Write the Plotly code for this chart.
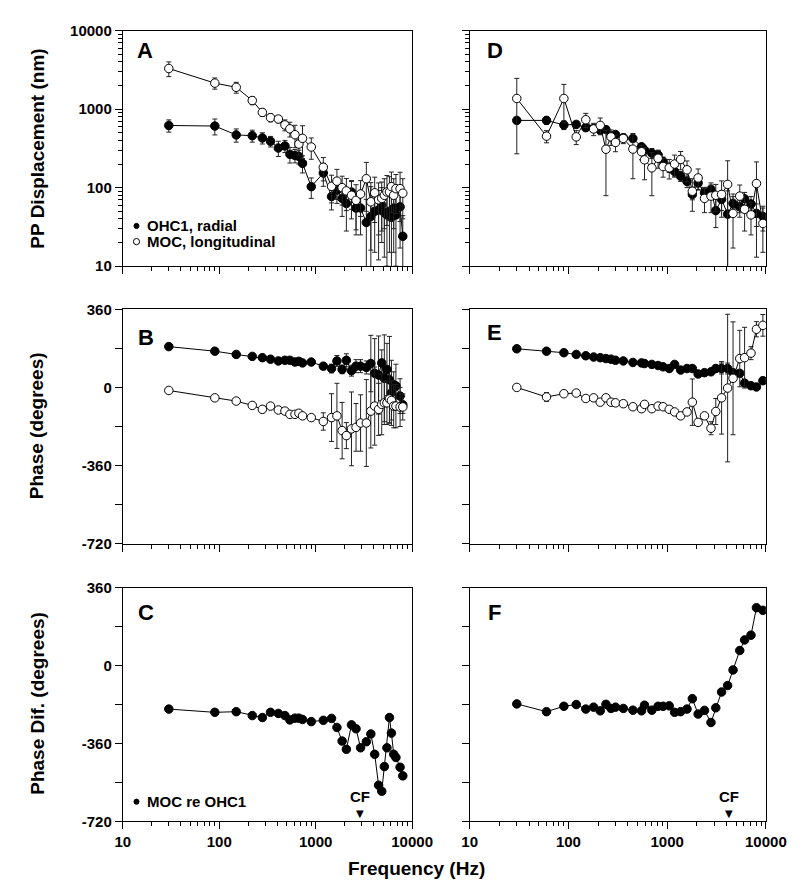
import numpy as np
import plotly.graph_objects as go

W, H = 802, 886

# ---------------- data ----------------
freq_left = [30, 90, 150, 220, 280, 340, 410, 480, 540, 610, 670, 730, 900, 1200, 1460, 1660,
             1880, 2080, 2350, 2620, 2920, 3350, 3730, 4090, 4490, 4840, 5150, 5480, 5820, 6100,
             6440, 6790, 7500, 8000]
freq_right = [30, 60, 90, 120, 150, 180, 210, 240, 270, 300, 360, 450, 550, 590, 700, 810, 910,
              1050, 1190, 1370, 1590, 1800, 2060, 2390, 2780, 3110, 3560, 4100, 4650, 5440, 6090,
              7070, 8030, 9330]

# Panel A: PP displacement (nm)
a_ohc1 = [620, 610, 470, 460, 430, 390, 320, 340, 266, 257, 250, 204, 103, 154, 77, 93, 73, 63, 88,
          55, 55, 36, 43, 50, 52, 60, 48, 45, 50, 42, 55, 45, 57, 24]
a_ohc1_err = [110, 140, 90, 80, 70, 60, 70, 60, 60, 50, 50, 50, 30, 50, 25, 30, 30, 35, 35, 30, 30,
              35, 60, 35, 40, 40, 35, 35, 35, 35, 40, 35, 40, 20]
a_moc = [3300, 2150, 1900, 1290, 910, 780, 750, 630, 562, 473, 360, 425, 330, 182, 104, 121, 100,
         91, 80, 69, 83, 130, 66, 86, 70, 73, 80, 88, 88, 103, 80, 97, 97, 85]
a_moc_err = [700, 350, 300, 150, 100, 90, 80, 100, 120, 150, 100, 190, 100, 60, 40, 50, 40, 40, 40,
             40, 40, 80, 50, 50, 45, 45, 50, 55, 50, 55, 50, 50, 60, 45]

# Panel B: phase (degrees)
b_ohc1 = [188, 167, 152, 143, 137, 130, 122, 125, 125, 117, 120, 113, 117, 98, 87, 122, 83, 125, 77,
          98, 98, 92, 110, 65, 57, 113, 42, 83, 35, -25, 12, 7, -40, -80]
b_ohc1_err = [6, 6, 6, 6, 6, 6, 6, 6, 6, 6, 6, 6, 8, 15, 20, 25, 20, 30, 25, 30, 30, 30, 130, 160,
              180, 60, 200, 120, 200, 150, 60, 100, 80, 40]
b_moc = [-14, -48, -63, -83, -101, -86, -104, -109, -124, -124, -119, -131, -139, -157, -139, -131,
         -199, -222, -191, -184, -164, -164, -109, -86, -101, -78, -71, -71, -53, -60, -86, -86, -90,
         -90]
b_moc_err = [6, 6, 6, 6, 6, 6, 6, 6, 6, 6, 6, 6, 8, 40, 110, 150, 130, 60, 170, 110, 130, 200, 170,
             180, 120, 140, 100, 100, 110, 90, 100, 100, 90, 60]

# Panel C: phase difference (degrees)
c_diff = [-201, -216, -213, -231, -240, -216, -221, -231, -251, -243, -243, -249, -259, -253, -244,
          -286, -349, -387, -274, -292, -380, -352, -316, -410, -553, -581, -467, -380, -240, -312,
          -410, -425, -470, -510]

# Panel D: PP displacement (nm)
d_ohc1 = [720, 720, 630, 640, 582, 566, 540, 550, 456, 476, 434, 424, 332, 300, 275, 261, 215, 181,
          161, 140, 120, 82, 115, 86, 95, 51, 71, 46, 63, 57, 72, 62, 47, 43]
d_ohc1_err = [60, 80, 80, 60, 50, 40, 50, 40, 50, 40, 40, 40, 30, 40, 40, 40, 30, 25, 25, 20, 20,
              12, 20, 15, 20, 20, 20, 45, 20, 15, 15, 15, 15, 15]
d_moc = [1370, 453, 1370, 444, 735, 560, 622, 309, 444, 377, 424, 310, 287, 226, 179, 237, 186, 179,
         200, 229, 169, 90, 133, 73, 78, 80, 82, 110, 47, 78, 53, 45, 113, 35]
d_moc_err = [1100, 80, 700, 90, 150, 100, 150, 230, 100, 90, 60, 180, 60, 100, 100, 60, 50, 50, 60,
             60, 50, 40, 40, 25, 30, 30, 40, 110, 30, 30, 25, 20, 100, 20]

# Panel E: phase (degrees)
e_ohc1 = [178, 167, 160, 152, 146, 140, 137, 133, 130, 125, 122, 115, 113, 110, 106, 101, 95, 87,
          106, 80, 87, 87, 62, 68, 72, 87, 87, 87, 68, 65, 20, 8, 2, 31]
e_ohc1_err = [5, 5, 5, 5, 5, 5, 5, 5, 5, 5, 5, 5, 5, 5, 5, 5, 5, 5, 5, 5, 8, 5, 8, 5, 5, 15, 25, 25,
              10, 10, 10, 10, 10, 15]
e_moc = [0, -44, -29, -26, -51, -48, -68, -48, -68, -71, -75, -89, -98, -78, -98, -86, -89, -101,
         -113, -131, -113, -68, -161, -131, -188, -111, -48, -3, 42, 133, 137, 158, 268, 286]
e_moc_err = [5, 20, 8, 8, 8, 8, 8, 8, 8, 8, 8, 8, 15, 8, 8, 8, 8, 8, 8, 8, 8, 107, 15, 10, 30, 60,
             167, 340, 260, 130, 140, 30, 35, 50]

# Panel F: phase difference (degrees)
f_diff = [-177, -213, -188, -180, -201, -192, -209, -179, -198, -192, -198, -206, -209, -183, -206,
          -188, -188, -186, -216, -213, -201, -153, -224, -207, -263, -195, -122, -92, -20, 70, 119,
          141, 268, 256]

cf_left = 2870
cf_right = 4190

x_tick_vals = [10, 100, 1000, 10000]
x_tick_text = ["10", "100", "1000", "10000"]
disp_tick_vals = [10, 100, 1000, 10000]
disp_tick_text = ["10", "100", "1000", "10000"]
phase_tick_vals = [360, 0, -360, -720]
phase_tick_text = ["360", "0", "-360", "-720"]

# ---------------- layout geometry (pixels) ----------------
FONT = "Liberation Sans"
colL = (110.8, 411.0)
colR = (470.7, 778.0)
rows = [(14, 254), (298, 537), (582, 820)]


def dom_x(c):
    return [c[0] / W, c[1] / W]


def dom_y(r):
    return [1 - r[1] / H, 1 - r[0] / H]


fig = go.Figure()

filled = dict(symbol="circle", size=8.5, color="black", line=dict(color="black", width=1))
opened = dict(symbol="circle", size=8.5, color="white", line=dict(color="black", width=1))
line = dict(color="black", width=1)


def err(vals, e, logy):
    if logy:
        minus = [min(ei, 0.995 * v) for v, ei in zip(vals, e)]
    else:
        minus = e
    return dict(type="data", array=e, arrayminus=minus, symmetric=False, color="#222222",
                thickness=1, width=2.5)


def add(xs, ys, e, marker, xa, ya, logy):
    fig.add_trace(go.Scatter(
        x=xs, y=ys, mode="lines+markers", marker=marker, line=line,
        error_y=err(ys, e, logy) if e is not None else None,
        xaxis=xa, yaxis=ya, showlegend=False))


add(freq_left, a_ohc1, a_ohc1_err, filled, "x", "y", True)
add(freq_left, a_moc, a_moc_err, opened, "x", "y", True)
add(freq_left, b_ohc1, b_ohc1_err, filled, "x2", "y2", False)
add(freq_left, b_moc, b_moc_err, opened, "x2", "y2", False)
add(freq_left, c_diff, None, filled, "x3", "y3", False)
add(freq_right, d_ohc1, d_ohc1_err, filled, "x4", "y4", True)
add(freq_right, d_moc, d_moc_err, opened, "x4", "y4", True)
add(freq_right, e_ohc1, e_ohc1_err, filled, "x5", "y5", False)
add(freq_right, e_moc, e_moc_err, opened, "x5", "y5", False)
add(freq_right, f_diff, None, filled, "x6", "y6", False)

tickfont = dict(family=FONT, size=15, color="black", weight="bold")

common = dict(showline=True, linecolor="black", linewidth=1, mirror=True, ticks="outside",
              ticklen=7, tickwidth=1, tickcolor="black", showgrid=False, zeroline=False,
              tickfont=tickfont)

layout = dict(width=W, height=H, margin=dict(l=0, r=0, t=0, b=0), plot_bgcolor="white",
              paper_bgcolor="white", showlegend=False)

panels = [("", colL, rows[0], True, False, True),
          ("2", colL, rows[1], False, False, True),
          ("3", colL, rows[2], False, True, True),
          ("4", colR, rows[0], True, False, False),
          ("5", colR, rows[1], False, False, False),
          ("6", colR, rows[2], False, True, False)]

log_minor = [d * 10 ** k for k in range(1, 4) for d in range(2, 10)]

for suf, col, row, logy, xlabels, ylabels in panels:
    xa = dict(common, type="log", range=[1, 4], domain=dom_x(col), anchor="y" + suf,
              tickvals=x_tick_vals, ticktext=x_tick_text, showticklabels=xlabels,
              minor=dict(ticks="outside", ticklen=4, tickcolor="black", tickwidth=1,
                         tickvals=log_minor))
    if logy:
        ya = dict(common, type="log", range=[1, 4], domain=dom_y(row), anchor="x" + suf,
                  tickvals=disp_tick_vals, ticktext=disp_tick_text, showticklabels=ylabels,
                  minor=dict(ticks="outside", ticklen=4, tickcolor="black", tickwidth=1,
                             tickvals=log_minor))
    else:
        ya = dict(common, range=[-720, 360], domain=dom_y(row), anchor="x" + suf,
                  tickvals=phase_tick_vals, ticktext=phase_tick_text, showticklabels=ylabels,
                  minor=dict(ticks="outside", ticklen=7, tickcolor="black", tickwidth=1,
                             tickvals=[180, -180, -540]))
    layout["xaxis" + suf] = xa
    layout["yaxis" + suf] = ya

fig.update_layout(**layout)

ann = []


def text(x, y, s, size=15, xanchor="center", yanchor="middle", angle=0):
    ann.append(dict(x=x / W, y=1 - y / H, xref="paper", yref="paper", text=s, showarrow=False,
                    xanchor=xanchor, yanchor=yanchor, textangle=angle,
                    font=dict(family=FONT, size=size, color="black")))


for lab, x, y in [("A", 123, 34), ("B", 124, 327), ("C", 124, 607),
                  ("D", 487, 34), ("E", 487, 322), ("F", 488, 607)]:
    text(x, y, "<b>%s</b>" % lab, size=22, xanchor="left")

text(134, 213, "<b>OHC1, radial</b>", size=15, xanchor="left")
text(134, 229, "<b>MOC, longitudinal</b>", size=15, xanchor="left")
text(134, 800, "<b>MOC re OHC1</b>", size=15, xanchor="left")

shapes = []


def dot(x, y, r, fill):
    shapes.append(dict(type="circle", xref="paper", yref="paper",
                       x0=(x - r) / W, x1=(x + r) / W, y0=1 - (y + r) / H, y1=1 - (y - r) / H,
                       line=dict(color="black", width=1), fillcolor=fill))


dot(125, 213, 2.6, "black")
dot(125, 229, 3.2, "white")
dot(125, 800, 2.6, "black")

text(22, 134, "<b>PP Displacement (nm)</b>", size=19, angle=-90)
text(22, 417, "<b>Phase (degrees)</b>", size=19, angle=-90)
text(22, 700, "<b>Phase Dif. (degrees)</b>", size=19, angle=-90)
text(416, 868, "<b>Frequency (Hz)</b>", size=19)

for xr, cf in [("x3", cf_left), ("x6", cf_right)]:
    ann.append(dict(x=np.log10(cf), y=1 - 795 / H, xref=xr, yref="paper", text="<b>CF</b>",
                    showarrow=False, xanchor="center", yanchor="middle",
                    font=dict(family=FONT, size=15, color="black")))
    ann.append(dict(x=np.log10(cf), y=1 - 812 / H, xref=xr, yref="paper", text="▼",
                    showarrow=False, xanchor="center", yanchor="middle",
                    font=dict(family="DejaVu Sans", size=10, color="black")))

fig.update_layout(annotations=ann, shapes=shapes)
fig.write_html("out.html")
